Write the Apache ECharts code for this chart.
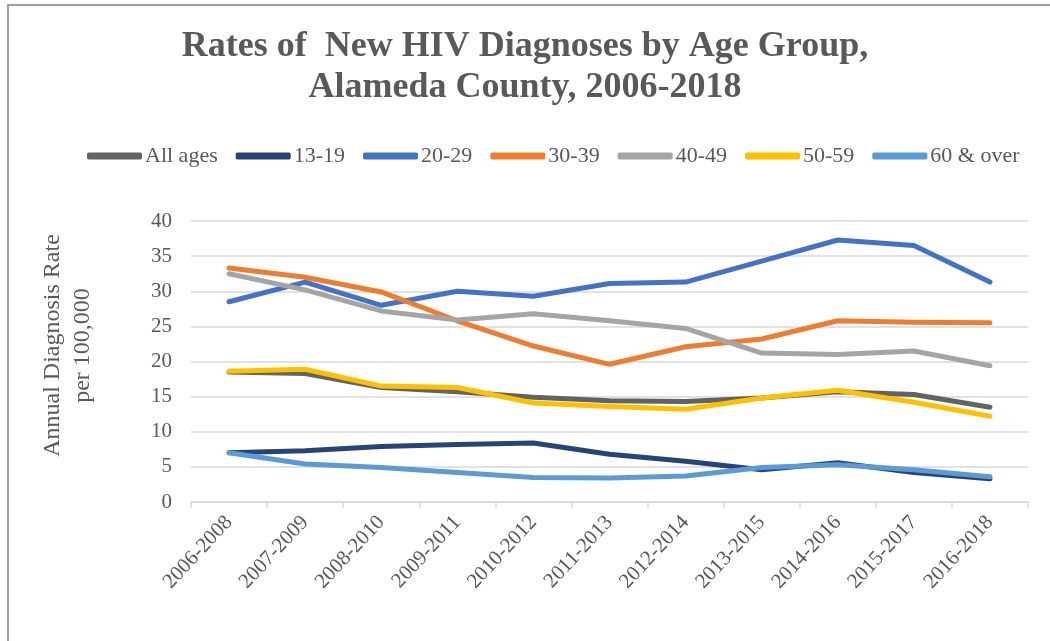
<!DOCTYPE html>
<html>
<head>
<meta charset="utf-8">
<script src="https://cdn.jsdelivr.net/npm/echarts@6/dist/echarts.min.js"></script>
<style>
    html, body { margin: 0; padding: 0; background: #fff; }
    #main { width: 1050px; height: 641px; }
</style>
</head>
<body>
<div id="main"></div>
<script>
// 数据
var periods = ['2006-2008', '2007-2009', '2008-2010', '2009-2011', '2010-2012', '2011-2013',
    '2012-2014', '2013-2015', '2014-2016', '2015-2017', '2016-2018'];
var allAges = [18.5, 18.3, 16.3, 15.7, 14.9, 14.4, 14.3, 14.8, 15.7, 15.3, 13.5];
var age13to19 = [7.0, 7.3, 7.9, 8.2, 8.4, 6.8, 5.8, 4.6, 5.6, 4.2, 3.3];
var age20to29 = [28.5, 31.3, 28.0, 30.0, 29.3, 31.1, 31.3, 34.3, 37.3, 36.5, 31.3];
var age30to39 = [33.3, 32.0, 29.9, 25.8, 22.2, 19.6, 22.1, 23.2, 25.8, 25.6, 25.5];
var age40to49 = [32.5, 30.2, 27.2, 25.9, 26.8, 25.8, 24.7, 21.2, 21.0, 21.5, 19.4];
var age50to59 = [18.6, 18.9, 16.5, 16.3, 14.1, 13.6, 13.2, 14.8, 15.9, 14.2, 12.2];
var age60plus = [7.0, 5.4, 4.9, 4.2, 3.5, 3.4, 3.7, 4.9, 5.3, 4.6, 3.6];
var yTicks = [0, 5, 10, 15, 20, 25, 30, 35, 40];

var seriesNames = ['All ages', '13-19', '20-29', '30-39', '40-49', '50-59', '60 & over'];
var seriesData = [allAges, age13to19, age20to29, age30to39, age40to49, age50to59, age60plus];
var colors = ['#636363', '#264478', '#4472C4', '#ED7D31', '#A5A5A5', '#FFC000', '#5B9BD5'];

var serif = '"Liberation Serif", "DejaVu Serif", serif';
var textColor = '#595959';

var myChart = echarts.init(document.getElementById('main'));

var series = [];
for (let i = 0; i < seriesNames.length; i++) {
    series.push({
        name: seriesNames[i],
        type: 'line',
        showSymbol: false,
        lineStyle: { width: 5, color: colors[i], cap: 'round', join: 'round' },
        itemStyle: { color: colors[i] },
        data: seriesData[i]
    });
}

var option = {
    backgroundColor: '#fff',
    color: colors,
    animation: false,
    title: {
        text: 'Rates of  New HIV Diagnoses by Age Group,\nAlameda County, 2006-2018',
        left: 'center',
        top: 21,
        textStyle: {
            fontFamily: serif,
            fontSize: 36,
            fontWeight: 'bold',
            color: textColor,
            lineHeight: 41
        }
    },
    legend: {
        top: 140,
        left: 82,
        itemWidth: 55,
        itemHeight: 7,
        itemGap: 18,
        icon: 'roundRect',
        textStyle: { fontFamily: serif, fontSize: 22, color: textColor, padding: [0, 0, 0, -2] },
        data: seriesNames
    },
    graphic: [{
        type: 'polyline',
        shape: { points: [[8, 641], [8, 5], [1060, 5]] },
        style: { stroke: '#a0a0a0', lineWidth: 2, fill: null },
        silent: true
    }],
    grid: {
        left: 191,
        right: 22,
        top: 221,
        bottom: 139
    },
    xAxis: {
        type: 'category',
        data: periods,
        boundaryGap: true,
        axisLine: { lineStyle: { color: '#d9d9d9', width: 1.5 } },
        axisTick: { show: true, length: 6, lineStyle: { color: '#d9d9d9', width: 1.5 } },
        axisLabel: {
            rotate: 47,
            margin: 17,
            fontFamily: serif,
            fontSize: 21,
            color: textColor
        }
    },
    yAxis: {
        type: 'value',
        min: 0,
        max: 40,
        interval: 5,
        name: 'Annual Diagnosis Rate\nper 100,000',
        nameLocation: 'middle',
        nameGap: 93,
        nameRotate: 90,
        nameTextStyle: {
            fontFamily: serif,
            fontSize: 24,
            color: textColor,
            lineHeight: 30,
            padding: [0, 0, 0, 32]
        },
        axisLine: { show: false },
        axisTick: { show: false },
        axisLabel: {
            margin: 19,
            fontFamily: serif,
            fontSize: 21,
            color: textColor,
            formatter: function (v) {
                return yTicks.indexOf(v) >= 0 ? String(v) : '';
            }
        },
        splitLine: { lineStyle: { color: '#d9d9d9', width: 1.5 } }
    },
    series: series
};

myChart.setOption(option);
</script>
</body>
</html>
